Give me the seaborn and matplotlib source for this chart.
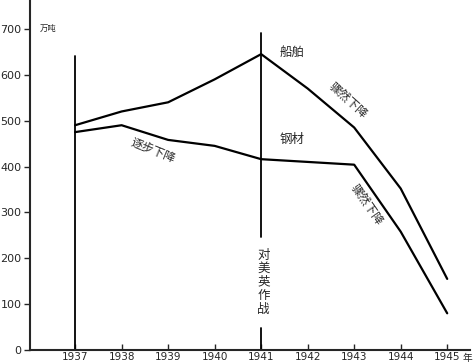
import numpy as np
import pandas as pd
import matplotlib
matplotlib.use("Agg")
import matplotlib.pyplot as plt
import seaborn as sns

# --- data (万吨) ---
years = [1937, 1938, 1939, 1940, 1941, 1942, 1943, 1944, 1945]
ships = [490, 520, 540, 590, 645, 570, 485, 352, 155]
steel = [475, 490, 458, 445, 416, 410, 404, 258, 80]
y_ticks = [0, 100, 200, 300, 400, 500, 600, 700]

df = pd.DataFrame({"year": years * 2,
                   "value": ships + steel,
                   "kind": ["船舶"] * len(years) + ["钢材"] * len(years)})

sns.set_style("ticks")
plt.rcParams["font.family"] = ["Noto Sans CJK SC", "DejaVu Sans"]

fig = plt.figure(figsize=(4.76, 3.63), dpi=100)
ax = fig.add_axes([30 / 476, 13 / 363, 440 / 476, 350 / 363])

sns.lineplot(data=df, x="year", y="value", units="kind", estimator=None,
             color="black", linewidth=1.6, ax=ax, legend=False)

# vertical marker lines
ax.plot([1937, 1937], [0, 640], color="black", lw=1.3)
ax.plot([1941, 1941], [0, 48], color="black", lw=1.3)
ax.plot([1941, 1941], [246, 690], color="black", lw=1.3)

ax.set_xlim(1936.03, 1945.49)
ax.set_ylim(0, 763)
ax.set_xticks(years)
ax.set_xticklabels([str(y) for y in years], fontsize=7.5, family="DejaVu Sans")
ax.set_yticks(y_ticks)
ax.set_yticklabels([str(v) for v in y_ticks], fontsize=8, family="DejaVu Sans")
ax.tick_params(axis="x", direction="in", length=4, width=1, pad=1.5)
ax.tick_params(axis="y", direction="out", length=4, width=1, pad=2)
ax.set_xlabel("")
ax.set_ylabel("")
sns.despine(ax=ax)
for s in ["left", "bottom"]:
    ax.spines[s].set_linewidth(1.5)

# annotations
ax.text(1936.25, 700, "万吨", fontsize=6, va="center", ha="left")
ax.text(1945.32, -6, "年", fontsize=7, va="top", ha="left", clip_on=False)
ax.text(1941.67, 648, "船舶", fontsize=9, ha="center", va="center")
ax.text(1941.67, 460, "钢材", fontsize=9, ha="center", va="center")
ax.text(1942.87, 545, "骤然下降", fontsize=8.5, ha="center", va="center", rotation=-42)
ax.text(1938.68, 436, "逐步下降", fontsize=8.5, ha="center", va="center", rotation=-22)
ax.text(1943.28, 318, "骤然下降", fontsize=8.5, ha="center", va="center", rotation=-55)
ax.text(1941.05, 148, "\n".join("对美英作战"), fontsize=9, ha="center", va="center",
        linespacing=1.05)

fig.savefig("out.png", dpi=100)
